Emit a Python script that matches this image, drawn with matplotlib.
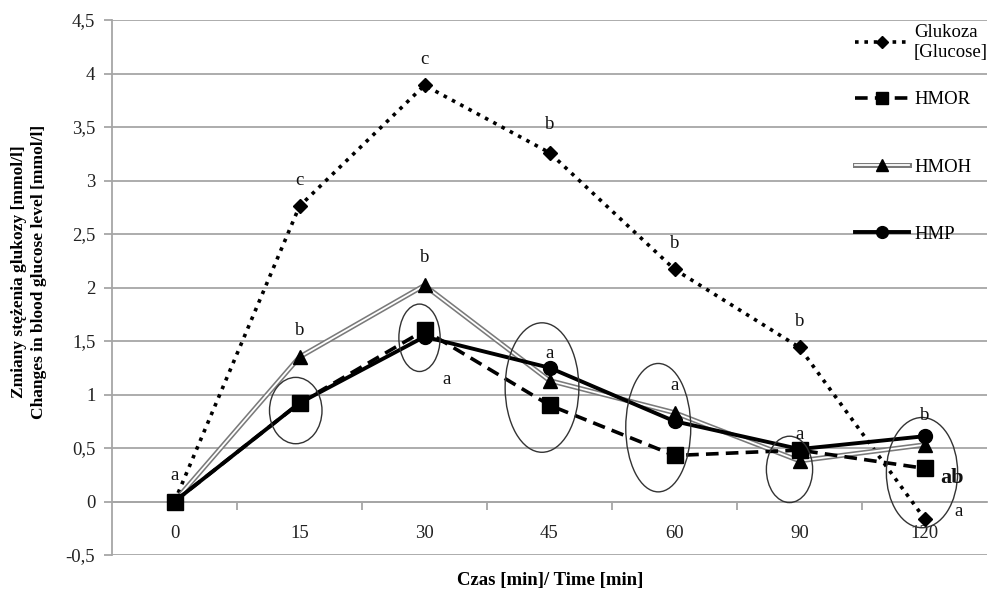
import matplotlib
matplotlib.use("Agg")
import matplotlib.pyplot as plt
from matplotlib.patches import Ellipse
from matplotlib.legend_handler import HandlerTuple
import numpy as np

# ---------------- data ----------------
times = ["0", "15", "30", "45", "60", "90", "120"]
glukoza = [0.0, 2.76, 3.89, 3.26, 2.17, 1.44, -0.16]
hmor = [0.0, 0.92, 1.60, 0.90, 0.43, 0.48, 0.31]
hmoh = [0.0, 1.35, 2.02, 1.13, 0.83, 0.38, 0.53]
hmp = [0.0, 0.92, 1.54, 1.25, 0.75, 0.49, 0.61]

y_ticks = [-0.5, 0, 0.5, 1, 1.5, 2, 2.5, 3, 3.5, 4, 4.5]
y_tick_labels = ["-0,5", "0", "0,5", "1", "1,5", "2", "2,5", "3", "3,5", "4", "4,5"]

# significance letters: (category index, y value, text)
letters = [
    (0, 0.24, "a"), (1, 3.00, "c"), (2, 4.13, "c"), (3, 3.52, "b"),
    (4, 2.41, "b"), (5, 1.68, "b"), (6.27, -0.09, "a"),
    (1, 1.60, "b"), (2, 2.28, "b"), (2.18, 1.14, "a"), (3, 1.38, "a"),
    (4, 1.08, "a"), (5, 0.63, "a"), (6, 0.80, "b"),
]
ab_label = (6.22, 0.22, "ab")

# ellipses: (center x index, center y, width in categories, height in units)
ellipses = [
    (0.97, 0.85, 0.42, 0.62), (1.96, 1.53, 0.33, 0.63),
    (2.94, 1.065, 0.59, 1.21), (3.87, 0.69, 0.52, 1.20),
    (4.92, 0.30, 0.37, 0.62), (5.98, 0.27, 0.57, 1.03),
]

# ---------------- figure ----------------
plt.rcParams["font.family"] = ["Liberation Serif", "DejaVu Serif"]
fig = plt.figure(figsize=(9.92, 6.01), dpi=100)
ax = fig.add_axes([112 / 992, 1 - 555 / 601, (987 - 112) / 992, (555 - 20) / 601])

x = np.arange(len(times))
grid_c = "#a6a6a6"

ax.set_xlim(-0.5, 6.5)
ax.set_ylim(-0.5, 4.5)
ax.set_yticks(y_ticks)
ax.set_yticklabels(y_tick_labels)
for yv in y_ticks:
    ax.axhline(yv, color=grid_c, lw=1.3, zorder=0)

for s in ["top", "right"]:
    ax.spines[s].set_visible(False)
ax.spines["left"].set_color(grid_c)
ax.spines["left"].set_linewidth(1.3)
ax.spines["bottom"].set_position(("data", 0))
ax.spines["bottom"].set_color(grid_c)
ax.spines["bottom"].set_linewidth(1.3)

ax.set_xticks(x)
ax.set_xticklabels(times)
ax.set_xticks(np.arange(-0.5, 7, 1)[1:-1], minor=True)
ax.tick_params(axis="x", which="major", length=0, pad=17, labelsize=13.5, colors="#222222")
ax.tick_params(axis="x", which="minor", length=6, width=1.3, color=grid_c)
ax.tick_params(axis="y", length=6, width=1.3, color=grid_c, labelsize=13.5, labelcolor="#222222", pad=6)

# series
l_glu, = ax.plot(x, glukoza, color="black", ls=(0, (1, 1.6)), lw=2.6,
                 marker="D", ms=7.5, zorder=3, label="Glukoza\n[Glucose]")
l_hmor, = ax.plot(x, hmor, color="black", ls=(0, (3.5, 2)), lw=2.6,
                  marker="s", ms=11, zorder=4, label="HMOR")
g1, = ax.plot(x, hmoh, color="#7a7a7a", lw=3.6, zorder=3)
g2, = ax.plot(x, hmoh, color="white", lw=1.3, zorder=3)
g3, = ax.plot(x, hmoh, color="black", lw=0, marker="^", ms=10, zorder=3)
l_hmp, = ax.plot(x, hmp, color="black", lw=2.8, marker="o", ms=10, zorder=5, label="HMP")

for cx, cy, w, h in ellipses:
    ax.add_patch(Ellipse((cx, cy), w, h, fill=False, ec="#333333", lw=1.0, zorder=6))

for lx, ly, t in letters:
    ax.text(lx, ly, t, ha="center", va="center", fontsize=13.5, color="#111111", zorder=7)
ax.text(ab_label[0], ab_label[1], ab_label[2], ha="center", va="center",
        fontsize=16, fontweight="bold", color="#111111", zorder=7)

# legends
leg_fs = 13.5
leg1 = ax.legend([l_glu], [l_glu.get_label()], loc="upper left",
                 bbox_to_anchor=(855 / 992, 1 - 24 / 601), bbox_transform=fig.transFigure,
                 frameon=False, fontsize=leg_fs, handlelength=2.9, handletextpad=0.25,
                 borderpad=0, borderaxespad=0, labelspacing=0.1, markerscale=0.85)
ax.add_artist(leg1)
ax.legend([l_hmor, (g1, g2, g3), l_hmp], ["HMOR", "HMOH", "HMP"], loc="upper left",
          bbox_to_anchor=(855 / 992, 1 - 91 / 601), bbox_transform=fig.transFigure,
          frameon=False, fontsize=leg_fs, handlelength=2.9, handletextpad=0.25,
          borderpad=0, borderaxespad=0, labelspacing=2.68, markerscale=0.85,
          handler_map={tuple: HandlerTuple(ndivide=1)})

# axis labels
fig.text(550 / 992, 1 - 580 / 601, "Czas [min]/ Time [min]", ha="center", va="center",
         fontsize=13.5, fontweight="bold")
fig.text(19 / 992, 1 - 272 / 601, "Zmiany stężenia glukozy [mmol/l]", ha="center", va="center",
         rotation=90, fontsize=12.5, fontweight="bold")
fig.text(39 / 992, 1 - 272 / 601, "Changes in blood glucose level [mmol/l]", ha="center",
         va="center", rotation=90, fontsize=12.5, fontweight="bold")

fig.savefig("out.png", dpi=100)
